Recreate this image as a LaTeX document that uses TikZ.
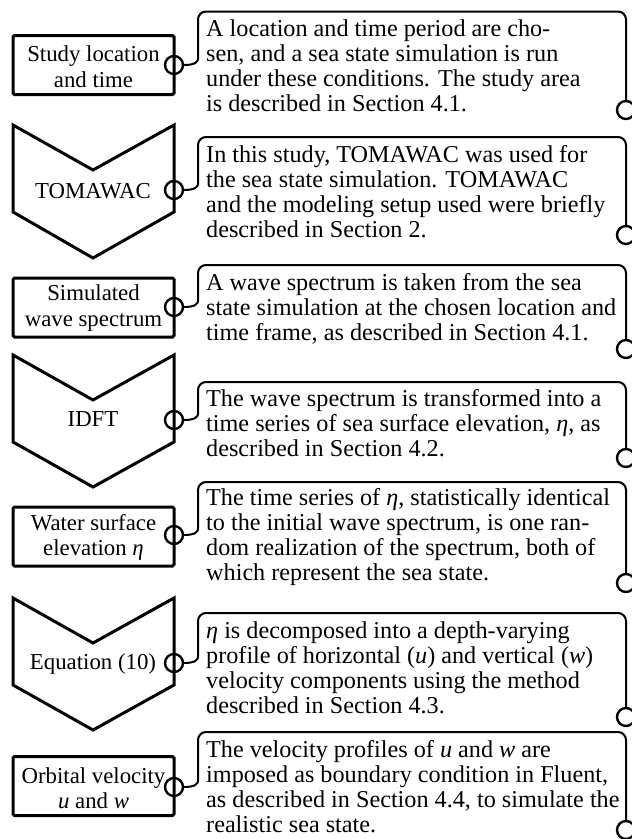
\documentclass[tikz,border=0pt]{standalone}
\usepackage{fontspec}
\setmainfont{Liberation Serif}
\begin{document}
\begin{tikzpicture}[x=1pt,y=-1pt,
  txt/.style={font=\fontsize{22.8}{25.5}\selectfont},
  stepbox/.style={draw,line width=3pt,rounded corners=1.5pt,minimum width=161pt,minimum height=59pt,inner sep=0pt},
  chev/.style={draw,line width=3pt,line join=miter},
  ring/.style={draw,circle,line width=2.4pt,minimum size=18pt,inner sep=0pt},
  panel/.style={draw,line width=2pt,rounded corners=8pt},
  ptext/.style={font=\fontsize{24.2}{25}\selectfont,anchor=base west,inner sep=0pt},
  ltext/.style={txt,align=center,inner sep=0pt}]
\useasboundingbox (0,0) rectangle (632,839);
\clip (0,0) rectangle (632,839);
% ---------- left column ----------
\node[stepbox] (b1) at (93.5,65) {};
\node[ltext] (l1) at (93.5,66.5) {Study location\\and time};
\draw[chev] (13,125) -- (93,170) -- (174,125) -- (174,212) -- (93,258) -- (13,212) -- cycle;
\node[ltext] (l2) at (93,191) {TOMAWAC};
\node[stepbox] (b3) at (93.5,307.5) {};
\node[ltext] (l3) at (93.5,308) {Simulated\\wave spectrum};
\draw[chev] (13,355) -- (93,400) -- (174,355) -- (174,442) -- (93,487) -- (13,442) -- cycle;
\node[ltext] (l4) at (93,419) {IDFT};
\node[stepbox] (b5) at (93.5,536.5) {};
\node[ltext] (l5) at (93.5,537.5) {Water surface\\elevation \textit{η}};
\draw[chev] (13,598) -- (93,643) -- (174,598) -- (174,685) -- (93,730) -- (13,685) -- cycle;
\node[ltext] (l6) at (93,664) {Equation (10)};
\node[stepbox] (b7) at (93.5,786) {};
\node[ltext] (l7) at (93.5,788) {Orbital velocity\\\textit{u} and \textit{w}};
% ---------- connector rings ----------
\foreach \i/\cy/\top/\rc in {1/65/11.5/110, 2/190/137/235, 3/307/265/349, 4/420/382/458, 5/535/482/583, 6/663/613/717, 7/787/732/830}{
  \node[ring] (cl\i) at (174,\cy) {};
  \node[ring] (cr\i) at (626,\rc) {};
  \coordinate (k\i) at (198,\cy-14);
  \draw[panel] (cl\i.east) .. controls (196,\cy) and (198,\cy-4) .. (k\i) -- (198,\top) -- (626,\top) -- (cr\i.north);
}
% ---------- panel texts ----------
\node[ptext] (t1) at (206,36.5) {\vtop{\hbox{A location and time period are cho-}\hbox{sen, and a sea state simulation is run}\hbox{under these conditions. The study area}\hbox{is described in Section 4.1.}}};
\node[ptext] (t2) at (206,162) {\vtop{\hbox{In this study, TOMAWAC was used for}\hbox{the sea state simulation. TOMAWAC}\hbox{and the modeling setup used were briefly}\hbox{described in Section 2.}}};
\node[ptext] (t3) at (206,290) {\vtop{\hbox{A wave spectrum is taken from the sea}\hbox{state simulation at the chosen location and}\hbox{time frame, as described in Section 4.1.}}};
\node[ptext] (t4) at (206,406.5) {\vtop{\hbox{The wave spectrum is transformed into a}\hbox{time series of sea surface elevation, \textit{η}, as}\hbox{described in Section 4.2.}}};
\node[ptext] (t5) at (206,505.5) {\vtop{\hbox{The time series of \textit{η}, statistically identical}\hbox{to the initial wave spectrum, is one ran-}\hbox{dom realization of the spectrum, both of}\hbox{which represent the sea state.}}};
\node[ptext] (t6) at (206,638) {\vtop{\hbox{\textit{η} is decomposed into a depth-varying}\hbox{profile of horizontal (\textit{u}) and vertical (\textit{w})}\hbox{velocity components using the method}\hbox{described in Section 4.3.}}};
\node[ptext] (t7) at (206,757.5) {\vtop{\hbox{The velocity profiles of \textit{u} and \textit{w} are}\hbox{imposed as boundary condition in Fluent,}\hbox{as described in Section 4.4, to simulate the}\hbox{realistic sea state.}}};
\end{tikzpicture}
\end{document}
